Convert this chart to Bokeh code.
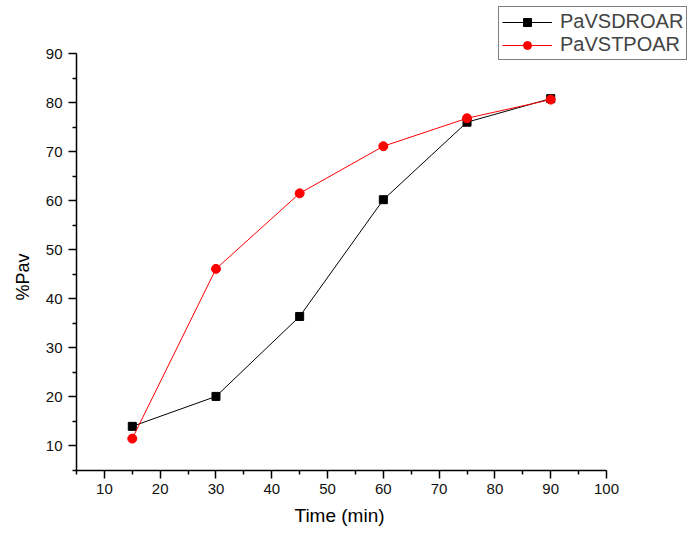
from bokeh.plotting import figure
from bokeh.models import Range1d, FixedTicker, Legend, LegendItem, Title
from bokeh.embed import file_html
from bokeh.resources import INLINE

time_min = [15, 30, 45, 60, 75, 90]
pav_sdroar = [14.0, 20.1, 36.4, 60.2, 76.0, 80.8]
pav_stpoar = [11.5, 46.1, 61.5, 71.1, 76.8, 80.6]
x_ticks = [10, 20, 30, 40, 50, 60, 70, 80, 90, 100]
y_ticks = [10, 20, 30, 40, 50, 60, 70, 80, 90]
x_bounds = (5, 100)
y_bounds = (5, 90)

FONT = "Liberation Sans"

# frame: x 76..693 px, y 0..470 px ; axes drawn only over their bounds
p = figure(width=693, height=533, output_backend="svg", toolbar_location=None,
           x_range=Range1d(5, 5 + 617 * 95 / 530), y_range=Range1d(5, 90 + 53 * 85 / 417),
           min_border_left=76, min_border_right=0, min_border_top=0, min_border_bottom=63)
p.outline_line_color = None
p.grid.visible = False
p.background_fill_color = "white"
p.border_fill_color = "white"

l1 = p.line(time_min, pav_sdroar, line_color="black", line_width=1)
s1 = p.scatter(time_min, pav_sdroar, marker="square", size=8, fill_color="black", line_color="black")
l2 = p.line(time_min, pav_stpoar, line_color="red", line_width=1)
s2 = p.scatter(time_min, pav_stpoar, marker="circle", size=9, fill_color="red", line_color="red")

for ax, ticks, b in ((p.xaxis[0], x_ticks, x_bounds), (p.yaxis[0], y_ticks, y_bounds)):
    ax.bounds = b
    ax.ticker = FixedTicker(ticks=ticks, minor_ticks=[t - 5 for t in ticks])
    ax.axis_line_width = 1.5
    ax.axis_line_color = "black"
    ax.major_tick_line_color = "black"
    ax.minor_tick_line_color = "black"
    ax.major_tick_line_width = 1.5
    ax.minor_tick_line_width = 1.5
    ax.major_tick_in = 0
    ax.major_tick_out = 8
    ax.minor_tick_in = 0
    ax.minor_tick_out = 4
    ax.major_label_text_font = FONT
    ax.major_label_text_font_size = "15px"
    ax.major_label_text_color = "#111111"

p.xaxis.major_label_standoff = 5
p.yaxis.major_label_standoff = 6

xt = Title(text="Time (min)", align="left", offset=218, standoff=13,
           text_font=FONT, text_font_size="19px", text_font_style="normal", text_color="black")
p.add_layout(xt, "below")
yt = Title(text="%Pav", align="left", offset=170, standoff=20,
           text_font=FONT, text_font_size="18px", text_font_style="normal", text_color="black")
p.add_layout(yt, "left")

legend = Legend(items=[LegendItem(label="PaVSDROAR", renderers=[l1, s1]),
                       LegendItem(label="PaVSTPOAR", renderers=[l2, s2])],
                location=(422, 410))
legend.label_text_font = FONT
legend.label_text_font_size = "20px"
legend.label_height = 20
legend.glyph_height = 20
legend.glyph_width = 50
legend.label_standoff = 8
legend.padding = 3
legend.spacing = 0
legend.margin = 0
legend.border_line_color = "black"
legend.border_line_width = 1
legend.background_fill_alpha = 1
p.add_layout(legend, "center")

open("out.html", "w").write(file_html(p, INLINE))
